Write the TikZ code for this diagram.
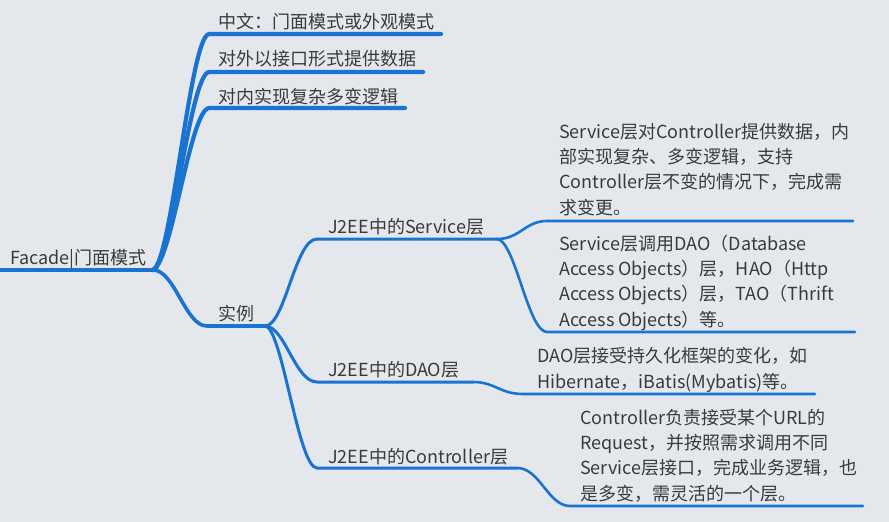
\documentclass[tikz,border=0pt]{standalone}
\usepackage{fontspec}
\setmainfont{Noto Sans CJK SC}
\definecolor{bgc}{HTML}{E4E8EC}
\definecolor{bl}{HTML}{1A73D0}
\definecolor{tx}{HTML}{3A3A3A}
\begin{document}
\begin{tikzpicture}[x=1pt,y=-1pt,
  lbl/.style={anchor=base west,inner sep=0pt,text=tx,font=\fontsize{18}{25.2}\selectfont,align=left},
  b1/.style={draw=bl,line width=4.2pt,line cap=round},
  b2/.style={draw=bl,line width=3.6pt,line cap=round},
  b3/.style={draw=bl,line width=3pt,line cap=round},
  b4/.style={draw=bl,line width=2.6pt,line cap=round}]
\fill[bgc] (0,0) rectangle (889,522);
\useasboundingbox (0,0) rectangle (889,522);
% coordinates
\coordinate (r0) at (-3,270);
\coordinate (R) at (153,270);
\coordinate (a1) at (209,34);   \coordinate (a1e) at (441,34);
\coordinate (a2) at (209,72);   \coordinate (a2e) at (423,72);
\coordinate (a3) at (209,108);  \coordinate (a3e) at (405,108);
\coordinate (s0) at (207,326);  \coordinate (E) at (265,326);
\coordinate (sv) at (317,239);  \coordinate (svE) at (497,239);
\coordinate (sv1) at (547,221); \coordinate (sv1e) at (853,221);
\coordinate (sv2) at (547,332); \coordinate (sv2e) at (855,332);
\coordinate (da) at (317,382);  \coordinate (daE) at (473,382);
\coordinate (da1) at (523,394); \coordinate (da1e) at (815,394);
\coordinate (ct) at (317,468);  \coordinate (ctE) at (517,468);
\coordinate (ct1) at (570,506); \coordinate (ct1e) at (863,506);
% texts (multi-line nodes are placed by the baseline of their last line)
\node[lbl] (root) at (10,264) {Facade|门面模式};
\node[lbl] (t1) at (218,28) {中文：门面模式或外观模式};
\node[lbl] (t2) at (218,65) {对外以接口形式提供数据};
\node[lbl] (t3) at (218,103) {对内实现复杂多变逻辑};
\node[lbl] (sl) at (218,320) {实例};
\node[lbl] (svl) at (328,233) {J2EE中的Service层};
\node[lbl] (dal) at (328,376) {J2EE中的DAO层};
\node[lbl] (ctl) at (328,463) {J2EE中的Controller层};
\node[lbl] (d1) at (559,214) {Service层对Controller提供数据，内\\部实现复杂、多变逻辑，支持\\Controller层不变的情况下，完成需\\求变更。};
\node[lbl] (d2) at (559,326) {Service层调用DAO（Database\\Access Objects）层，HAO（Http\\Access Objects）层，TAO（Thrift\\Access Objects）等。};
\node[lbl] (d3) at (537,388) {DAO层接受持久化框架的变化，如\\Hibernate，iBatis(Mybatis)等。};
\node[lbl] (d4) at (580,500) {Controller负责接受某个URL的\\Request，并按照需求调用不同\\Service层接口，完成业务逻辑，也\\是多变，需灵活的一个层。};
% connectors
\draw[b1] (r0) -- (R);
\draw[b1] (R) .. controls (172,262) and (190,36) .. (a1) -- (a1e);
\draw[b1] (R) .. controls (172,262) and (190,74) .. (a2) -- (a2e);
\draw[b1] (R) .. controls (172,262) and (190,110) .. (a3) -- (a3e);
\draw[b2] (R) .. controls (175,270) and (185,326) .. (s0) -- (E);
\draw[b3] (E) .. controls (285,326) and (295,239) .. (sv) -- (svE);
\draw[b3] (E) .. controls (285,326) and (295,382) .. (da) -- (daE);
\draw[b3] (E) .. controls (282,326) and (298,468) .. (ct) -- (ctE);
\draw[b4] (svE) .. controls (520,239) and (525,221) .. (sv1) -- (sv1e);
\draw[b4] (svE) .. controls (515,240) and (528,332) .. (sv2) -- (sv2e);
\draw[b4] (daE) .. controls (495,382) and (500,394) .. (da1) -- (da1e);
\draw[b4] (ctE) .. controls (540,468) and (548,506) .. (ct1) -- (ct1e);
\end{tikzpicture}
\end{document}
